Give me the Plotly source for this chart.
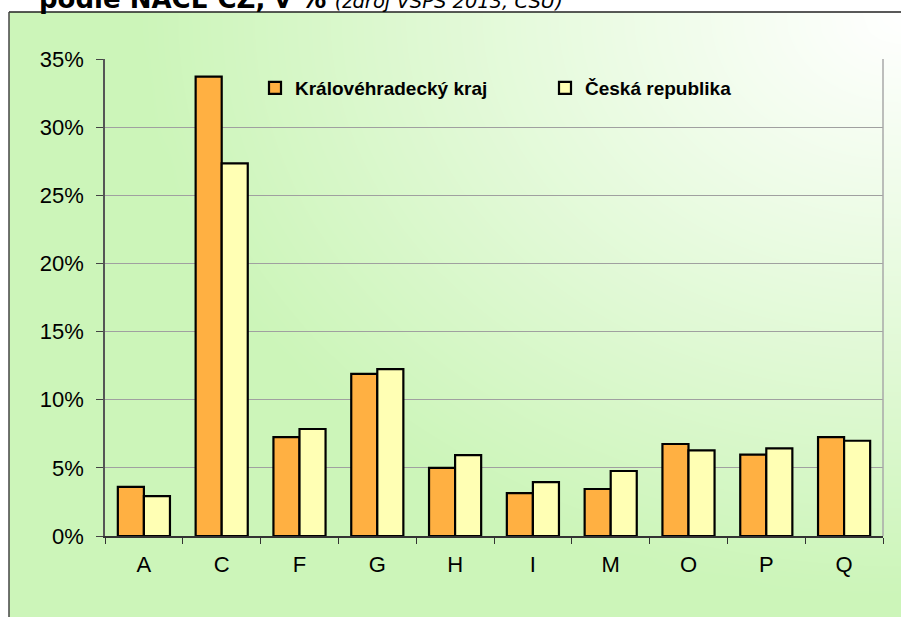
import numpy as np
import plotly.graph_objects as go

W, H = 901, 617

categories = ["A", "C", "F", "G", "H", "I", "M", "O", "P", "Q"]
kraj_values = [3.6, 33.7, 7.25, 11.9, 5.0, 3.15, 3.45, 6.75, 5.97, 7.26]
cr_values = [2.93, 27.34, 7.85, 12.25, 5.94, 3.96, 4.77, 6.29, 6.43, 6.99]
series_names = ["Královéhradecký kraj", "Česká republika"]
y_ticks = [0, 5, 10, 15, 20, 25, 30, 35]
y_tick_text = [f"{v}%" for v in y_ticks]

ORANGE = "#FFB042"
YELLOW = "#FFFFB4"
GREEN = "#CCF5B9"

# background gradient (white at top-right corner, green elsewhere)
gx = np.linspace(9, 901, 46)
gy = np.linspace(12, 617, 32)
cx, cy, rx, ry = 900.0, 15.0, 760.0, 580.0
GX, GY = np.meshgrid(gx, gy)
gz = np.minimum(1.0, np.sqrt(((GX - cx) / rx) ** 2 + ((GY - cy) / ry) ** 2))

fig = go.Figure()
fig.add_trace(go.Heatmap(
    x=gx, y=gy, z=gz, zsmooth="best", showscale=False, hoverinfo="skip",
    colorscale=[[0, "#FFFFFF"], [1, GREEN]], zmin=0, zmax=1,
    xaxis="x", yaxis="y", showlegend=False,
))

fig.add_trace(go.Bar(
    x=categories, y=kraj_values, name=series_names[0],
    marker=dict(color=ORANGE, line=dict(color="black", width=2.2)),
    xaxis="x2", yaxis="y2", legend="legend", hoverinfo="skip", showlegend=True,
))
fig.add_trace(go.Bar(
    x=categories, y=cr_values, name=series_names[1],
    marker=dict(color=YELLOW, line=dict(color="black", width=2.2)),
    xaxis="x2", yaxis="y2", legend="legend2", hoverinfo="skip", showlegend=True,
))

x0d, x1d = 105 / W, 883 / W
y0d, y1d = 1 - 536 / H, 1 - 59 / H

legend_font = dict(family="Liberation Sans", size=19, color="black", weight="bold")

fig.update_layout(
    width=W, height=H,
    showlegend=True,
    margin=dict(l=0, r=0, t=0, b=0, autoexpand=False),
    paper_bgcolor="white",
    plot_bgcolor="rgba(0,0,0,0)",
    barmode="group", bargap=0.33, bargroupgap=0,
    xaxis=dict(domain=[9 / W, 1], range=[9, 901], visible=False, fixedrange=True),
    yaxis=dict(domain=[0, 1 - 12 / H], range=[617, 12], visible=False, fixedrange=True),
    xaxis2=dict(
        domain=[x0d, x1d], anchor="y2", type="category",
        tickson="boundaries", ticks="outside", ticklen=6, tickcolor="#333",
        showline=True, linecolor="#333", linewidth=1.5,
        showgrid=False, tickfont=dict(family="Liberation Sans", size=22, color="black"),
        ticklabelstandoff=8,
    ),
    yaxis2=dict(
        domain=[y0d, y1d], anchor="x2", range=[0, 35],
        tickmode="array", tickvals=y_ticks, ticktext=y_tick_text,
        ticks="outside", ticklen=7, tickcolor="#444",
        showline=True, linecolor="#555", linewidth=1.5,
        showgrid=True, gridcolor="#A0A0A0", gridwidth=1, zeroline=False,
        tickfont=dict(family="Liberation Sans", size=22, color="black"),
        ticklabelstandoff=8,
    ),
    legend=dict(x=255 / W, y=1 - 88 / H, xanchor="left", yanchor="middle",
                orientation="h", bgcolor="rgba(0,0,0,0)", font=legend_font),
    legend2=dict(x=545 / W, y=1 - 88 / H, xanchor="left", yanchor="middle",
                 orientation="h", bgcolor="rgba(0,0,0,0)", font=legend_font),
    shapes=[
        dict(type="line", xref="paper", yref="paper", x0=9 / W, x1=1, y0=1 - 12 / H, y1=1 - 12 / H,
             line=dict(color="#222", width=1.5)),
        dict(type="line", xref="paper", yref="paper", x0=9 / W, x1=9 / W, y0=0, y1=1 - 12 / H,
             line=dict(color="#444", width=1.5)),
        dict(type="line", xref="x2 domain", yref="y2 domain", x0=1, x1=1, y0=0, y1=1,
             line=dict(color="#A8A8A8", width=1.5)),
    ],
    annotations=[
        dict(
            xref="paper", yref="paper", x=37 / W, y=1 + 0.8 / H, xanchor="left", yanchor="middle",
            showarrow=False, align="left",
            text="<b>podle NACE CZ, v %</b> <i><span style=\"font-size:19.5px\">(zdroj VŠPS 2013, ČSÚ)</span></i>",
            font=dict(family="DejaVu Sans", size=26, color="black"),
        )
    ],
)

fig.write_html("out.html", config={"displayModeBar": False},
               post_script="document.body.style.margin='0';")
